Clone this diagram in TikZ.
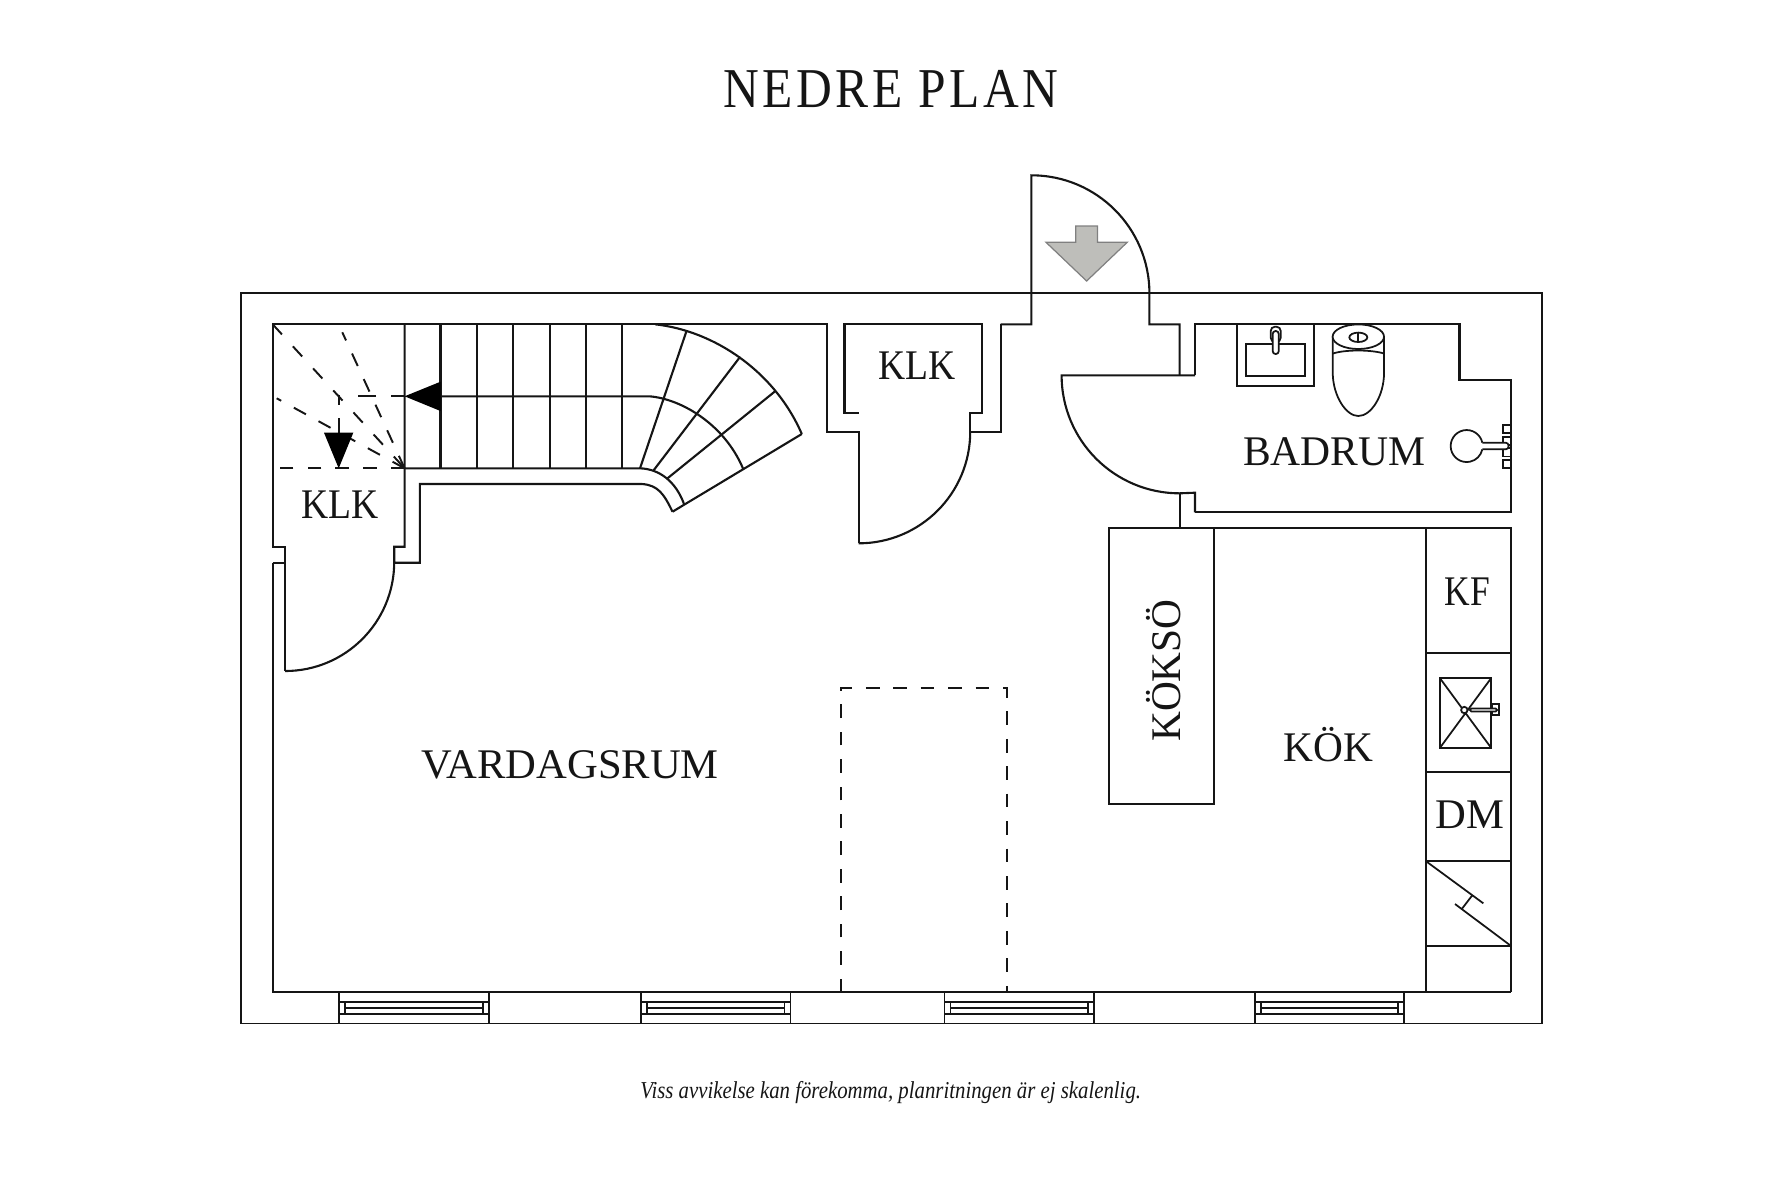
\documentclass[tikz,border=0pt]{standalone}
\usepackage{fontspec}
\setmainfont{Liberation Serif}
\definecolor{ink}{HTML}{151515}
\definecolor{entry}{HTML}{BEBEBA}
\tikzset{
  wall/.style={draw=ink, line width=.6pt},
  thin wall/.style={draw=ink, line width=.5pt},
  stair dash/.style={draw=ink, line width=.55pt, dash pattern=on 3.9pt off 4.1pt},
  room/.style={text=ink, font=\fontsize{12}{14}\selectfont, anchor=base, inner sep=0pt, transform shape},
}
\begin{document}
\begin{tikzpicture}[x=0.01cm, y=-0.01cm]
\useasboundingbox (0,0) rectangle (1780,1187);

% title and note
\node [room, font=\fontsize{16}{20}\selectfont\addfontfeatures{LetterSpace=7}, xscale=.88] (title) at (891,107.5) {NEDRE PLAN};
\node [room, font=\fontsize{6.9}{8}\itshape, xscale=.857] (note) at (890.7,1098) {Viss avvikelse kan förekomma, planritningen är ej skalenlig.};

% outer wall
\draw [thin wall] (241,293) rectangle (1542,1023.5);

% inner outline, left part
\draw [wall] (285.2,671) -- (285.2,546.7) -- (272.7,546.7) -- (272.7,324.3) -- (826.7,324.3)
  -- (826.7,431.7) -- (858.7,431.7) -- (858.7,543.3);
\draw [wall] (272.7,562.7) -- (285.2,562.7);
\draw [wall] (1510.7,992.3) -- (272.7,992.3) -- (272.7,562.7);
\draw [wall] (404.6,324.3) -- (404.6,546.7) -- (394.2,546.7) -- (394.2,562.7) -- (419.9,562.7)
  -- (419.9,484) -- (641.8,484) .. controls (658,485) and (664,494) .. (672.5,511.7);

% doors
\draw [wall] (285.2,671) arc [start angle=90, end angle=0, radius=109];
\draw [wall] (858.7,543.3) arc [start angle=90, end angle=0, radius=111.5];
\draw [wall] (1000.7,324.3) -- (1031.4,324.3) -- (1031.4,175.3) arc [start angle=-90, end angle=0, radius=118]
  -- (1149.4,324.3) -- (1179.6,324.3) -- (1179.6,375.3);
\draw [wall] (1195,375.3) -- (1061.6,375.3) arc [start angle=180, end angle=90, radius=118]
  -- (1195,492.7) -- (1195,512.3);
\draw [wall] (1179.6,492.7) -- (1179.6,527.7);

% way in
\draw [draw=gray, line width=.35pt, fill=entry] (1075.8,226) -- (1097.5,226) -- (1097.5,242.3) -- (1127.2,242.3)
  -- (1086.6,281) -- (1046,242.3) -- (1075.8,242.3) -- cycle;

% closet in the middle
\draw [wall] (858.7,413.3) -- (844.5,413.3) -- (844.5,324.3) -- (982.3,324.3) -- (982.3,413.3) -- (970,413.3) -- (970,431.7) -- (1000.7,431.7) -- (1000.7,324.3);

% bathroom
\draw [wall] (1195,375.3) -- (1195,324.3) -- (1459.5,324.3) -- (1459.5,380) -- (1510.7,380) -- (1510.7,512.3) -- (1195,512.3);
\draw [thin wall] (1236.7,324.3) rectangle (1314.3,385.7);
\draw [thin wall] (1246,344) rectangle (1305,375.7);
\draw [thin wall, fill=white, rounded corners=1.2pt] (1270.7,326.7) rectangle (1280.7,342);
\draw [thin wall, fill=white, rounded corners=.8pt] (1272.7,331) rectangle (1278.7,354);
\draw [thin wall] (1332.7,336.7) -- (1332.7,373) .. controls (1333,396) and (1346,416) .. (1358.3,416)
  .. controls (1371,416) and (1384,396) .. (1384,373) -- (1384,336.7);
\draw [thin wall] (1333,353.5) .. controls (1345,349.5) and (1371,349.5) .. (1384,353.5);
\draw [thin wall, fill=white] (1358.3,336.7) ellipse [x radius=25.7, y radius=12.3];
\draw [thin wall] (1358.3,337.3) ellipse [x radius=9, y radius=4.7];
\draw [thin wall] (1358.3,332.6) -- (1358.3,342);
\draw [thin wall] (1482.3,442.7) arc [start angle=-12, end angle=-348, radius=16];
\foreach \y in {425,436.7,448.3,460}
  \draw [thin wall] (1503.3,\y) rectangle (1510.7,\y+8.3);
\draw [thin wall, fill=white, rounded corners=.8pt] (1482.3,449.3) -- (1508.5,449.3) -- (1508.5,442.7) -- (1482.3,442.7);

% kitchen
\draw [wall] (1109.3,527.7) rectangle (1214.3,804.3);
\draw [wall] (1214.3,527.7) -- (1510.7,527.7) -- (1510.7,992.3);
\draw [thin wall] (1425.7,527.7) -- (1425.7,992.3);
\foreach \y in {653.3,771.7,860.7,945.7}
  \draw [thin wall] (1425.7,\y) -- (1510.7,\y);
\draw [thin wall] (1440,678.3) rectangle (1491,747.7);
\draw [thin wall] (1440,678.3) -- (1491,747.7) (1491,678.3) -- (1440,747.7);
\draw [thin wall, fill=white] (1464.3,710) circle [radius=3.2];
\draw [thin wall] (1492.3,704.3) rectangle (1499.3,715);
\draw [thin wall, fill=white, rounded corners=.4pt] (1470,708.5) rectangle (1497,711.5);
\draw [thin wall] (1425.7,861) -- (1483.3,903.3) (1455,904) -- (1510.7,945.7) (1462.3,908.3) -- (1471.7,896);

% windows
\foreach \x in {339.3,640.7,944.5,1254.6} {
  \draw [thin wall] (\x,992.3) -- (\x,1023.5) (\x+149.7,992.3) -- (\x+149.7,1023.5);
  \draw [thin wall] (\x,1001.7) -- (\x+149.7,1001.7) (\x,1014.3) -- (\x+149.7,1014.3);
  \draw [thin wall] (\x+6,1008.3) -- (\x+143.7,1008.3);
  \draw [thin wall] (\x+6,1001.7) -- (\x+6,1014.3) (\x+143.7,1001.7) -- (\x+143.7,1014.3);
}

% opening in the floor
\draw [stair dash, dash pattern=on 3.9pt off 3.9pt] (840.7,992.3) -- (840.7,688.3) -- (1007.3,688.3) -- (1007.3,992.3);

% straight part of the stairs
\foreach \x in {440.5,476.9,513.2,549.6,586,622.3}
  \draw [wall] (\x,324.3) -- (\x,468.3);
\draw [wall] (404.6,468.3) -- (640,468.3) .. controls (660,469) and (676,482) .. (684,504);
\draw [wall] (440.5,396.3) -- (649.5,396.3) .. controls (682,399) and (725,425) .. (743.2,469);
\draw [wall] (655.2,324.3) .. controls (715,331) and (775,372) .. (801.8,434);
\draw [wall] (640,468.3) -- (686.6,330.7);
\draw [wall] (653.3,470.7) -- (740.2,356.7);
\draw [wall] (667.5,478.3) -- (775.8,390.7);
\draw [wall] (672.5,511.7) -- (801.8,434);
\fill [black] (404.6,396.3) -- (440.5,381.7) -- (440.5,411) -- cycle;

% stairs to the floor below
\draw [stair dash, dash pattern=on 3.9pt off 4pt] (404.6,468.3) -- (272.7,468.3);
\draw [stair dash, dash pattern=on 3.9pt off 4.6pt] (272.7,324.3) -- (404.6,468.3);
\draw [stair dash] (404.6,468.3) -- (342.3,332.3);
\draw [stair dash] (404.6,468.3) -- (276.7,398.3);
\draw [stair dash, dash pattern=on 3.9pt off 4.2pt on 5.2pt off 5.3pt] (404.6,396.2) -- (338.7,396.2);
\draw [wall] (338.7,396.2) -- (338.7,405) (338.7,418) -- (338.7,436);
\fill [black] (338.7,468.3) -- (324,432.7) -- (353.3,432.7) -- cycle;

% room names
\node [room, xscale=.89] (closet low) at (339.9,518.3) {KLK};
\node [room, xscale=.89] (closet mid) at (916.7,379) {KLK};
\node [room, xscale=.985] (bath) at (1334.4,465.7) {BADRUM};
\node [room, xscale=1.01] (living) at (570,778.7) {VARDAGSRUM};
\node [room, xscale=.98] (kitchen) at (1328.7,761.7) {KÖK};
\node [room, xscale=.84] (fridge) at (1467.3,605) {KF};
\node [room, xscale=1.01] (dishes) at (1470,828.3) {DM};
\node [room, rotate=90, xscale=.98] (island) at (1180,670.5) {KÖKSÖ};

\end{tikzpicture}
\end{document}
